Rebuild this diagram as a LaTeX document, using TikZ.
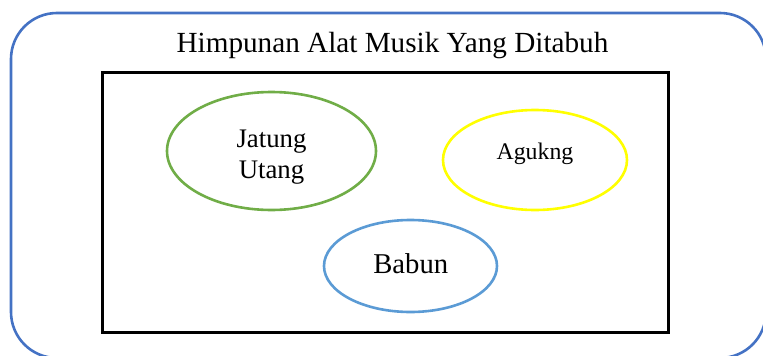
\documentclass[tikz,border=0pt]{standalone}
\usepackage{fontspec}
\setmainfont{Liberation Serif}
\usetikzlibrary{shapes,positioning,backgrounds}
\definecolor{wordblue}{RGB}{68,114,196}
\definecolor{setgreen}{RGB}{112,173,71}
\definecolor{setyellow}{RGB}{255,255,0}
\definecolor{setblue}{RGB}{91,155,213}
\tikzset{
	anggota/.style={shape=ellipse,draw,line width=2.6pt,inner sep=0pt,fill=white},
	teks/.style={inner sep=0pt,text=black}
}

\begin{document}
\begin{tikzpicture}[x=1pt,y=-1pt]
		\useasboundingbox (0,0) rectangle (763,356);
		\clip (0,0) rectangle (763,356);
		\draw [rounded corners=46pt,line width=2.6pt,draw=wordblue] (11,13) rectangle (766,358);
		\node(judul) [teks,anchor=base,font=\fontsize{29.2}{34}\selectfont] at (392.5,52) {Himpunan Alat Musik Yang Ditabuh};
		\node(semesta) [draw,line width=3pt,minimum width=566,minimum height=260,inner sep=0pt] at (385,202) {};
		\node(jatung) [anggota,draw=setgreen,minimum width=209,minimum height=118] at (271.5,151) {};
		\node at (271.5,157) [teks,align=center,font=\fontsize{26.8}{31}\selectfont] {Jatung\\Utang};
		\node(agukng) [anggota,draw=setyellow,minimum width=184,minimum height=100] at (535,160) {};
		\node at (535,159) [teks,anchor=base,font=\fontsize{23.8}{28}\selectfont] {Agukng};
		\node(babun) [anggota,draw=setblue,minimum width=173,minimum height=92] at (410.5,266) {};
		\node at (410.8,273) [teks,anchor=base,font=\fontsize{28.7}{33}\selectfont] {Babun};
	\end{tikzpicture}
\end{document}
